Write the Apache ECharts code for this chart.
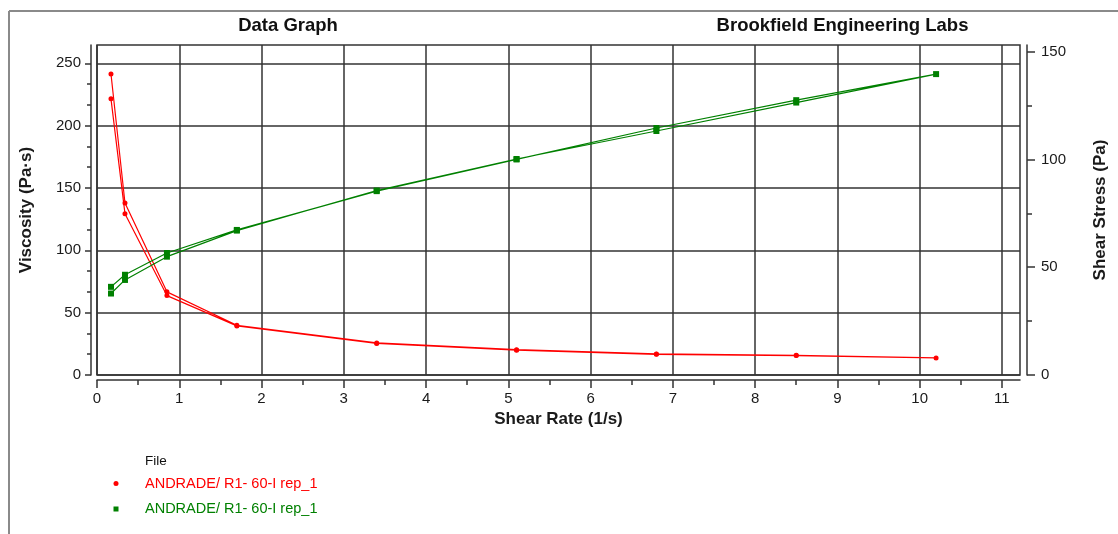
<!DOCTYPE html>
<html>
<head>
<meta charset="utf-8">
<title>Data Graph</title>
<script src="https://cdn.jsdelivr.net/npm/echarts@6/dist/echarts.min.js"></script>
<style>
  html, body { margin: 0; padding: 0; background: #ffffff; }
  #chart { width: 1118px; height: 534px; }
</style>
</head>
<body>
<div id="chart"></div>
<script>
// Shear rates (1/s): ramp up through the speed list, then back down
const shearRateUp = [0.17, 0.34, 0.85, 1.7, 3.4, 5.1, 6.8, 8.5, 10.2];
const shearRateDown = [8.5, 6.8, 5.1, 3.4, 1.7, 0.85, 0.34, 0.17];

// Viscosity (Pa·s), left axis
const viscosityUp = [241.4, 138.0, 66.7, 39.9, 25.7, 20.3, 16.9, 15.8, 13.7];
const viscosityDown = [15.6, 16.6, 19.9, 25.3, 39.4, 63.7, 129.4, 221.5];

// Shear stress (Pa), right axis
const stressUp = [40.9, 46.5, 56.6, 67.3, 85.3, 100.0, 114.6, 127.5, 139.6];
const stressDown = [126.4, 113.2, 100.2, 85.6, 67.0, 54.9, 44.1, 37.8];

// Major tick positions on each axis
const shearRateTicks = [0, 1, 2, 3, 4, 5, 6, 7, 8, 9, 10, 11];
const viscosityTicks = [0, 50, 100, 150, 200, 250];
const stressTicks = [0, 50, 100, 150];

const fileName = 'ANDRADE/ R1- 60-I rep_1';
const titleLeft = 'Data Graph';
const titleRight = 'Brookfield Engineering Labs';
const legendTitle = 'File';

const RED = '#ff0000';
const GREEN = '#008000';
const INK = '#1a1a1a';
const GRID_INK = '#333333';
const FONT = '"Liberation Sans", Arial, sans-serif';

function pairs(xs, ys) {
  return xs.map((x, i) => [x, ys[i]]);
}

const viscosityData = pairs(shearRateUp, viscosityUp).concat(pairs(shearRateDown, viscosityDown));
const stressData = pairs(shearRateUp, stressUp).concat(pairs(shearRateDown, stressDown));

const chart = echarts.init(document.getElementById('chart'), null, { renderer: 'canvas' });

const axisLineStyle = { color: GRID_INK, width: 1.5 };
const labelStyle = { color: INK, fontSize: 15, fontFamily: FONT };
const nameStyle = { color: INK, fontSize: 17, fontWeight: 'bold', fontFamily: FONT };

chart.setOption({
  animation: false,
  backgroundColor: '#ffffff',
  grid: {
    left: 97, right: 98, top: 45, bottom: 159,
    show: true,
    borderColor: GRID_INK,
    borderWidth: 1.5,
    backgroundColor: 'transparent',
    outerBoundsMode: 'none'
  },
  xAxis: {
    type: 'value',
    min: 0, max: 11.22, interval: 1,
    offset: 5,
    name: 'Shear Rate (1/s)',
    nameLocation: 'middle',
    nameGap: 29,
    nameTextStyle: nameStyle,
    axisLine: { show: true, onZero: false, lineStyle: axisLineStyle },
    axisTick: { show: true, length: 8, customValues: shearRateTicks, lineStyle: axisLineStyle },
    minorTick: { show: true, splitNumber: 2, length: 5, lineStyle: axisLineStyle },
    axisLabel: Object.assign({ margin: 11, showMaxLabel: false }, labelStyle),
    splitLine: { show: true, lineStyle: axisLineStyle }
  },
  yAxis: [
    {
      type: 'value',
      position: 'left',
      min: 0, max: 264.7, interval: 50,
      offset: 6,
      name: 'Viscosity (Pa·s)',
      nameLocation: 'middle',
      nameGap: 56,
      nameTextStyle: nameStyle,
      axisLine: { show: true, onZero: false, lineStyle: axisLineStyle },
      axisTick: { show: true, length: 6, customValues: viscosityTicks, lineStyle: axisLineStyle },
      minorTick: { show: true, splitNumber: 3, length: 4, lineStyle: axisLineStyle },
      axisLabel: Object.assign({ margin: 10, showMaxLabel: false }, labelStyle),
      splitLine: { show: true, lineStyle: axisLineStyle }
    },
    {
      type: 'value',
      position: 'right',
      min: 0, max: 153.1, interval: 50,
      offset: 7,
      name: 'Shear Stress (Pa)',
      nameLocation: 'middle',
      nameGap: 65,
      nameTextStyle: nameStyle,
      axisLine: { show: true, onZero: false, lineStyle: axisLineStyle },
      axisTick: { show: true, length: 8, customValues: stressTicks, lineStyle: axisLineStyle },
      minorTick: { show: true, splitNumber: 2, length: 5, lineStyle: axisLineStyle },
      axisLabel: Object.assign({ margin: 14, showMaxLabel: false }, labelStyle),
      splitLine: { show: false }
    }
  ],
  series: [
    {
      name: fileName,
      type: 'line',
      yAxisIndex: 0,
      data: viscosityData,
      symbol: 'circle',
      symbolSize: 5,
      showSymbol: true,
      itemStyle: { color: RED },
      lineStyle: { color: RED, width: 1.2 },
      emphasis: { disabled: true },
      z: 3
    },
    {
      name: fileName,
      type: 'line',
      yAxisIndex: 1,
      data: stressData,
      symbol: 'rect',
      symbolSize: 6,
      showSymbol: true,
      itemStyle: { color: GREEN },
      lineStyle: { color: GREEN, width: 1.2 },
      emphasis: { disabled: true },
      z: 3
    }
  ],
  graphic: [
    // outer frame
    { type: 'line', shape: { x1: 9, y1: 11, x2: 9, y2: 534 }, style: { stroke: '#8a8a8a', lineWidth: 2 } },
    { type: 'line', shape: { x1: 9, y1: 11, x2: 1118, y2: 11 }, style: { stroke: '#8a8a8a', lineWidth: 2 } },
    // headings
    { type: 'text', x: 288, y: 25.5, style: { text: titleLeft, fill: '#111', font: 'bold 18.5px ' + FONT, textAlign: 'center', textVerticalAlign: 'middle' } },
    { type: 'text', x: 842.5, y: 25.5, style: { text: titleRight, fill: '#111', font: 'bold 18.5px ' + FONT, textAlign: 'center', textVerticalAlign: 'middle' } },
    // legend block
    { type: 'text', x: 145, y: 461, style: { text: legendTitle, fill: '#111', font: '13.5px ' + FONT, textAlign: 'left', textVerticalAlign: 'middle' } },
    { type: 'circle', shape: { cx: 116, cy: 483.5, r: 2.5 }, style: { fill: RED } },
    { type: 'text', x: 145, y: 484, style: { text: fileName, fill: RED, font: '14.5px ' + FONT, textAlign: 'left', textVerticalAlign: 'middle' } },
    { type: 'rect', shape: { x: 113.5, y: 506.5, width: 5, height: 5 }, style: { fill: GREEN } },
    { type: 'text', x: 145, y: 509, style: { text: fileName, fill: GREEN, font: '14.5px ' + FONT, textAlign: 'left', textVerticalAlign: 'middle' } }
  ]
});
</script>
</body>
</html>
